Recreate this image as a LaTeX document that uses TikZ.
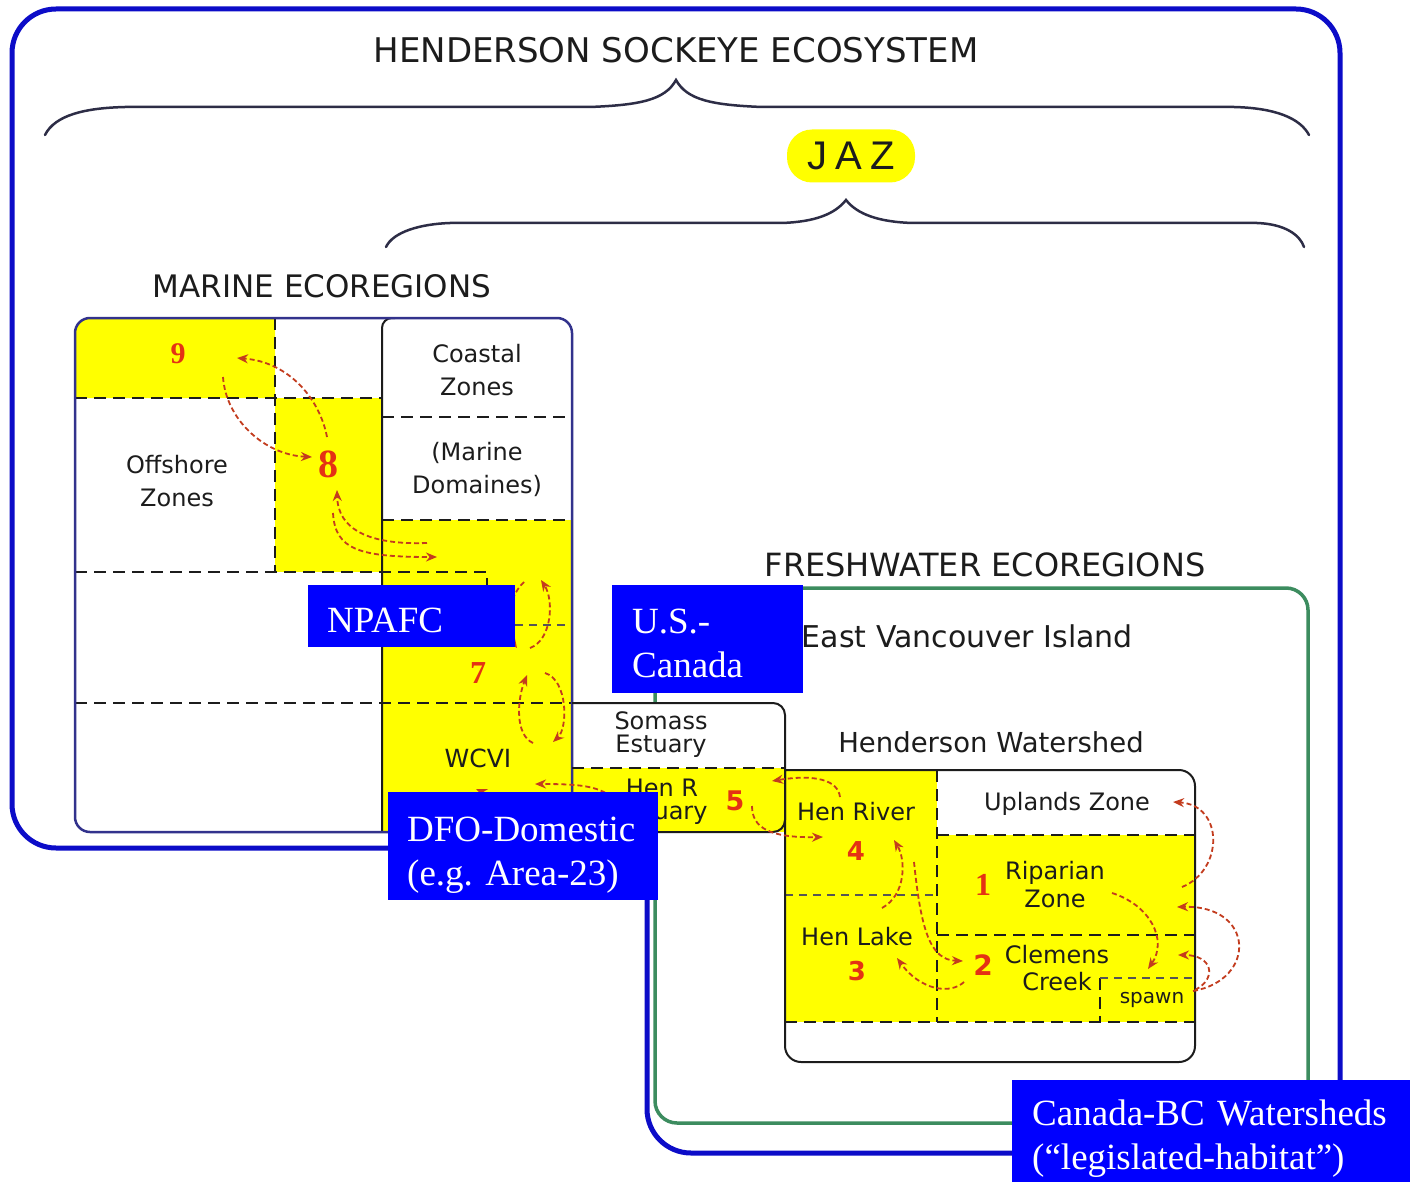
\documentclass[tikz,border=0pt]{standalone}
\usepackage{fontspec}
\setmainfont{DejaVu Sans}
\newfontfamily\tms{Liberation Serif}
\newfontfamily\arl{Liberation Sans}
\usetikzlibrary{arrows.meta}
\definecolor{frameblue}{RGB}{12,12,200}
\definecolor{fgreen}{RGB}{60,140,95}
\definecolor{mnavy}{RGB}{50,50,140}
\definecolor{ylw}{RGB}{255,255,0}
\definecolor{lblue}{RGB}{0,0,255}
\definecolor{arr}{RGB}{195,60,30}
\definecolor{txt}{RGB}{28,28,28}
\definecolor{numred}{RGB}{228,50,20}
\definecolor{bracec}{RGB}{45,45,70}
\begin{document}
\begin{tikzpicture}[x=1pt,y=-1pt,
  lbl/.style={text=txt, inner sep=0pt, align=center, font=\fontsize{24}{33}\selectfont},
  head/.style={text=txt, inner sep=0pt, anchor=base},
  numser/.style={text=numred, inner sep=0pt, anchor=base, font=\tms\bfseries\fontsize{#1}{#1}\selectfont},
  numsan/.style={text=numred, inner sep=0pt, anchor=base, font=\bfseries\fontsize{#1}{#1}\selectfont},
  dsh/.style={draw=txt, line width=2pt, dash pattern=on 12pt off 7pt},
  thindsh/.style={draw=txt!75, line width=1.2pt, dash pattern=on 8pt off 6pt},
  solidln/.style={draw=txt, line width=2pt},
  flow/.style={draw=arr, line width=1.8pt, dash pattern=on 5pt off 3pt, -{Stealth[length=11pt,width=9pt]}},
  tag/.style={fill=lblue, text=white, anchor=north west, inner sep=0pt, align=left,
              font=\tms\fontsize{37}{44}\selectfont},
  brace/.style={draw=bracec, line width=2.5pt, line cap=round},
]
\useasboundingbox (0,0) rectangle (1410,1182);
\fill[white] (0,0) rectangle (1410,1182);

% outer ecosystem frame
\draw[frameblue, line width=5pt, rounded corners=44pt]
  (12,848) -- (12,9) -- (1340,9) -- (1340,1153) -- (647,1153) -- (647,848) -- cycle;
% freshwater frame
\draw[fgreen, line width=3.5pt, rounded corners=22pt] (655,588) rectangle (1308,1123);

% braces
\draw[brace] (45,135) .. controls (55,115) and (85,108) .. (125,107) -- (590,107)
  .. controls (640,105) and (665,100) .. (676,80)
  .. controls (687,100) and (712,105) .. (762,107) -- (1234,107)
  .. controls (1275,108) and (1300,118) .. (1309,135);
\draw[brace] (386,247) .. controls (393,232) and (420,224) .. (450,223) -- (781,223)
  .. controls (815,222) and (835,214) .. (846,200)
  .. controls (857,214) and (878,222) .. (913,223) -- (1257,223)
  .. controls (1285,224) and (1300,235) .. (1304,247);

% ---------- marine ecoregions ----------
\fill[ylw] (75,398) [rounded corners=15pt] -- (75,318) [sharp corners] -- (275,318) -- (275,398) -- cycle;
\fill[ylw] (275,398) rectangle (382,572);
\fill[ylw] (382,520) -- (572,520) [rounded corners=15pt] -- (572,832) [sharp corners] -- (382,832) -- cycle;

% Somass estuary box
\fill[white] (572,703) -- (785,703) -- (785,832) -- (572,832) -- cycle;
\fill[ylw] (572,768) rectangle (785,832);

% Henderson watershed box
\fill[white, rounded corners=16pt] (785,770) -- (1195,770) -- (1195,1062) -- (785,1062) -- cycle;
\fill[ylw] (785,770) rectangle (937,1022);
\fill[ylw] (937,835) rectangle (1195,1022);

% marine lines
\draw[dsh] (275,318) -- (275,572);
\draw[dsh] (75,398) -- (382,398);
\draw[dsh] (382,417) -- (572,417);
\draw[dsh] (382,520) -- (572,520);
\draw[dsh] (75,572) -- (487,572) -- (487,625);
\draw[thindsh] (487,625) -- (572,625);
\draw[dsh] (75,703) -- (572,703);
\draw[solidln, rounded corners=10pt] (382,832) -- (382,318) -- (395,318);
\draw[mnavy, line width=2.5pt, rounded corners=15pt] (75,318) rectangle (572,832);

% Somass lines
\draw[solidln, rounded corners=12pt] (572,703) -- (785,703) -- (785,832) -- (572,832);
\draw[dsh] (572,768) -- (785,768);

% watershed lines
\draw[dsh] (937,770) -- (937,1022);
\draw[dsh] (937,835) -- (1195,835);
\draw[dsh] (937,935) -- (1195,935);
\draw[dsh] (785,1022) -- (1195,1022);
\draw[thindsh] (785,895) -- (937,895);
\draw[dsh, line width=1.5pt] (1100,978) -- (1100,1022);
\draw[thindsh] (1100,978) -- (1195,978);
\draw[solidln, rounded corners=16pt] (785,770) -- (1195,770) -- (1195,1062) -- (785,1062) -- (785,770);

% ---------- headings ----------
\node[head, font=\fontsize{34}{34}\selectfont] (title) at (676,63) {HENDERSON SOCKEYE ECOSYSTEM};
\node[fill=ylw, rounded corners=25pt, minimum width=128pt, minimum height=53pt, inner sep=0pt,
      text=txt, font=\arl\fontsize{40}{40}\selectfont] (jaz) at (851,156) {J\hspace{8pt}A\hspace{8pt}Z};
\node[head, font=\fontsize{31}{31}\selectfont] (marine) at (322,298) {MARINE ECOREGIONS};
\node[head, font=\fontsize{32}{32}\selectfont] (fresh) at (985,576) {FRESHWATER ECOREGIONS};
\node[head, anchor=base east, font=\fontsize{30}{30}\selectfont] (evi) at (1133,647) {East Vancouver Island};
\node[head, font=\fontsize{27.5}{27.5}\selectfont] (hwat) at (991,752) {Henderson Watershed};

% ---------- zone labels ----------
\node[lbl] (coastal) at (477,370) {Coastal\\Zones};
\node[lbl] (mdom) at (477,469) {(Marine\\Domaines)};
\node[lbl] (offshore) at (177,481) {Offshore\\Zones};
\node[head, font=\fontsize{25}{25}\selectfont] (wcvi) at (478,767) {WCVI};
\node[lbl, font=\fontsize{24}{23}\selectfont] (somass) at (661,735) {Somass\\Estuary};
\node[lbl, font=\fontsize{24}{23}\selectfont] (henrest) at (662,802) {Hen R\\Estuary};
\node[head, font=\fontsize{24}{24}\selectfont] (henriver) at (856,820) {Hen River};
\node[head, font=\fontsize{24}{24}\selectfont] (uplands) at (1067,810) {Uplands Zone};
\node[lbl, font=\fontsize{24}{28}\selectfont] (riparian) at (1055,885) {Riparian\\Zone};
\node[head, font=\fontsize{24}{24}\selectfont] (henlake) at (857,945) {Hen Lake};
\node[lbl, font=\fontsize{24}{27}\selectfont] (clemens) at (1057,968) {Clemens\\Creek};
\node[head, font=\fontsize{20}{20}\selectfont] (spawn) at (1152,1003) {spawn};

% ---------- stage numbers ----------
\node[numser=30] (n9) at (178,363) {9};
\node[numser=40] (n8) at (328,477) {8};
\node[numser=32] (n7) at (478,683) {7};
\node[numsan=27] (n5) at (735,810) {5};
\node[numsan=26] (n4) at (856,860) {4};
\node[numser=32] (n1) at (983,895) {1};
\node[numsan=28] (n2) at (983,975) {2};
\node[numsan=26] (n3) at (857,980) {3};

% ---------- migration arrows ----------
\coordinate (a1s) at (327,437);  \coordinate (a1e) at (237,358);
\coordinate (a2s) at (223,377);  \coordinate (a2e) at (312,457);
\coordinate (a3s) at (427,543);  \coordinate (a3e) at (337,490);
\coordinate (a4s) at (333,513);  \coordinate (a4e) at (437,557);
\coordinate (a5s) at (530,648);  \coordinate (a5e) at (541,580);
\coordinate (a6s) at (524,582);  \coordinate (a6e) at (517,648);
\coordinate (a7s) at (533,743);  \coordinate (a7e) at (527,675);
\coordinate (a8s) at (545,673);  \coordinate (a8e) at (553,742);
\coordinate (a9s) at (612,797);  \coordinate (a9e) at (535,784);
\coordinate (a10s) at (522,812); \coordinate (a10e) at (476,789);
\coordinate (a11s) at (840,797); \coordinate (a11e) at (772,781);
\coordinate (a12s) at (752,806); \coordinate (a12e) at (823,837);
\coordinate (a13s) at (882,908); \coordinate (a13e) at (894,840);
\coordinate (a14s) at (914,862); \coordinate (a14e) at (963,961);
\coordinate (a15s) at (964,982); \coordinate (a15e) at (897,958);
\coordinate (a16s) at (1112,893); \coordinate (a16e) at (1148,969);
\coordinate (a17s) at (1182,887); \coordinate (a17e) at (1173,802);
\coordinate (a18s) at (1193,991); \coordinate (a18e) at (1177,907);
\coordinate (a19s) at (1195,990); \coordinate (a19e) at (1178,955);

\draw[flow] (a1s) .. controls (320,400) and (290,362) .. (a1e);
\draw[flow] (a2s) .. controls (226,420) and (265,455) .. (a2e);
\draw[flow] (a3s) .. controls (370,545) and (338,530) .. (a3e);
\draw[flow] (a4s) .. controls (335,550) and (360,557) .. (a4e);
\draw[flow] (a5s) .. controls (552,640) and (554,600) .. (a5e);
\draw[flow] (a6s) .. controls (505,600) and (506,632) .. (a6e);
\draw[flow] (a7s) .. controls (515,735) and (517,700) .. (a7e);
\draw[flow] (a8s) .. controls (568,680) and (568,728) .. (a8e);
\draw[flow] (a9s) .. controls (597,786) and (580,784) .. (a9e);
\draw[flow] (a10s) .. controls (505,805) and (490,795) .. (a10e);
\draw[flow] (a11s) .. controls (838,780) and (815,774) .. (a11e);
\draw[flow] (a12s) .. controls (752,828) and (770,838) .. (a12e);
\draw[flow] (a13s) .. controls (906,895) and (906,860) .. (a13e);
\draw[flow] (a14s) .. controls (921,930) and (930,960) .. (a14e);
\draw[flow] (a15s) .. controls (950,995) and (920,990) .. (a15e);
\draw[flow] (a16s) .. controls (1150,905) and (1168,940) .. (a16e);
\draw[flow] (a17s) .. controls (1224,870) and (1224,805) .. (a17e);
\draw[flow] (a18s) .. controls (1257,980) and (1255,905) .. (a18e);
\draw[flow] (a19s) .. controls (1218,978) and (1212,955) .. (a19e);

% ---------- jurisdiction tags ----------
\node[tag, minimum width=207pt, minimum height=62pt, text width=169pt] (npafc) at (308,585)
  {\rule{0pt}{32pt}NPAFC};
\node[tag, minimum width=191pt, minimum height=108pt, text width=151pt] (usca) at (612,585)
  {\rule{0pt}{32pt}U.S.-\\Canada};
\node[tag, minimum width=270pt, minimum height=108pt, text width=232pt] (dfo) at (388,792)
  {\rule{0pt}{42pt}DFO-Domestic\\(e.g.\ Area-23)};
\node[tag, minimum width=398pt, minimum height=102pt, text width=358pt] (cbc) at (1012,1080)
  {\rule{0pt}{40pt}Canada-BC Watersheds\\(“legislated-habitat”)};
\end{tikzpicture}
\end{document}
